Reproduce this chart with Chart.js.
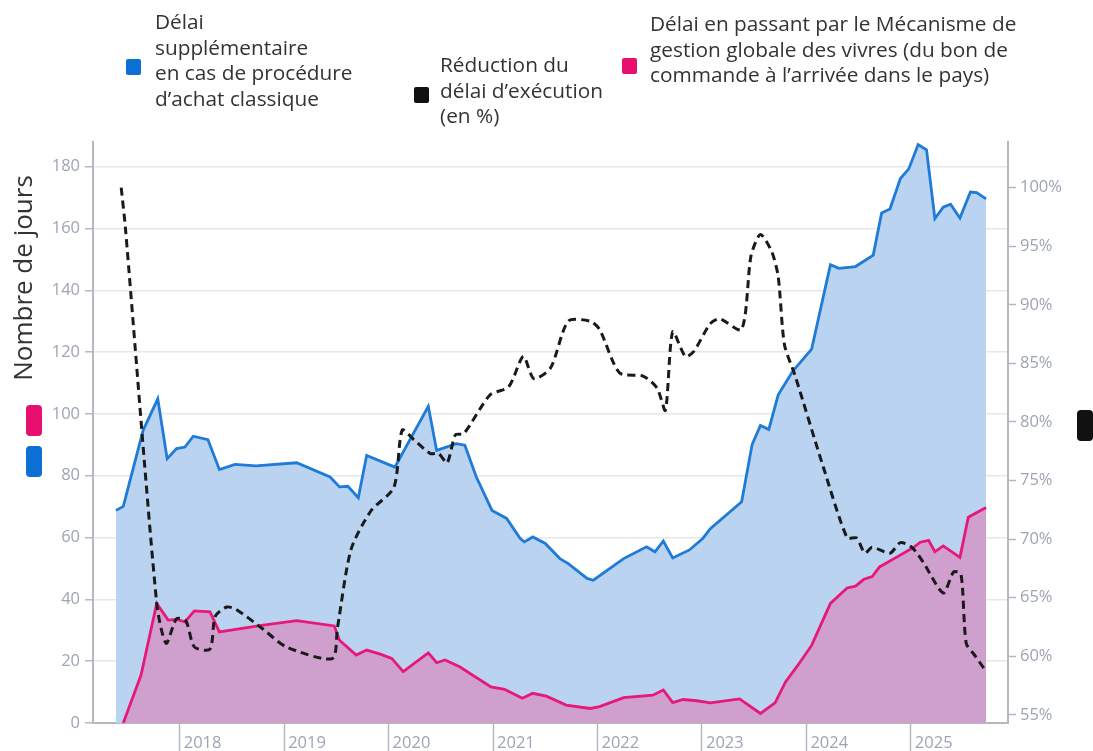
<!DOCTYPE html>
<html lang="fr">
<head>
<meta charset="utf-8">
<title>Délai d'exécution</title>
<script src="https://cdn.jsdelivr.net/npm/chart.js@4.4.1/dist/chart.umd.min.js"></script>
<style>
  html, body { margin: 0; padding: 0; background: #fff; }
  #wrap { position: relative; width: 1093px; height: 751px; overflow: hidden; font-family: "Open Sans", "Noto Sans", sans-serif; }
  #wrap canvas { position: absolute; left: 0; top: 0; }
  .leg { position: absolute; color: #333; font-size: 20.8px; line-height: 25.7px; white-space: nowrap; }
  .sw { position: absolute; width: 15px; height: 16px; border-radius: 2px; }
  .axsw { position: absolute; width: 16px; height: 31px; border-radius: 4px; }
  #ytitle { position: absolute; left: 22px; top: 278px; transform: translate(-50%, -50%) rotate(-90deg); font-size: 26px; color: #333; white-space: nowrap; }
</style>
</head>
<body>
<div id="wrap">
  <canvas id="chart" width="1093" height="751"></canvas>

  <div class="sw" style="left:126px;top:59px;background:#0b6fd6"></div>
  <div class="leg" style="left:155px;top:9px">Délai<br>supplémentaire<br>en cas de procédure<br>d’achat classique</div>

  <div class="sw" style="left:414px;top:87px;background:#111"></div>
  <div class="leg" style="left:440px;top:52px">Réduction du<br>délai d’exécution<br>(en %)</div>

  <div class="sw" style="left:622px;top:58px;background:#e8106e"></div>
  <div class="leg" style="left:650px;top:11px">Délai en passant par le Mécanisme de<br>gestion globale des vivres (du bon de<br>commande à l’arrivée dans le pays)</div>

  <div id="ytitle">Nombre de jours</div>
  <div class="axsw" style="left:26px;top:405px;background:#e8106e"></div>
  <div class="axsw" style="left:26px;top:446px;background:#0b6fd6"></div>
  <div class="axsw" style="left:1077px;top:410px;background:#111"></div>
</div>

<script>
// time is in decimal years (2018.5 = mid 2018)
const classicDates = [2017.39, 2017.46, 2017.65, 2017.79, 2017.88, 2017.97, 2018.05, 2018.13, 2018.27, 2018.38,
  2018.53, 2018.73, 2019.12, 2019.44, 2019.53, 2019.61, 2019.71, 2019.79, 2020.06, 2020.38,
  2020.46, 2020.65, 2020.73, 2020.84, 2020.99, 2021.13, 2021.26, 2021.30, 2021.38, 2021.50,
  2021.64, 2021.72, 2021.90, 2021.96, 2022.25, 2022.47, 2022.55, 2022.63, 2022.72, 2022.88,
  2023.01, 2023.08, 2023.38, 2023.48, 2023.56, 2023.64, 2023.73, 2023.87, 2024.05, 2024.23,
  2024.31, 2024.47, 2024.64, 2024.72, 2024.80, 2024.90, 2024.98, 2025.07, 2025.15, 2025.23,
  2025.31, 2025.38, 2025.47, 2025.57, 2025.63, 2025.72];
const classicDays = [68.8, 70.1, 94.7, 104.9, 85.5, 88.8, 89.3, 92.8, 91.7, 82.0,
  83.7, 83.2, 84.2, 79.6, 76.4, 76.6, 72.9, 86.6, 82.8, 102.5,
  88.2, 90.4, 89.9, 79.6, 68.8, 66.2, 59.7, 58.6, 60.2, 58.1,
  53.2, 51.6, 46.8, 46.2, 53.2, 57.0, 55.4, 58.9, 53.4, 56.0,
  59.8, 62.9, 71.6, 90.1, 96.3, 95.0, 106.2, 113.9, 121.0, 148.3,
  147.1, 147.7, 151.4, 165.0, 166.3, 176.2, 179.3, 187.2, 185.5, 163.2,
  166.9, 167.9, 163.4, 171.8, 171.6, 169.6];

const gcmfDates = [2017.46, 2017.63, 2017.78, 2017.89, 2017.97, 2018.05, 2018.14, 2018.29, 2018.38, 2018.80,
  2019.12, 2019.48, 2019.53, 2019.69, 2019.79, 2019.92, 2020.03, 2020.14, 2020.38, 2020.46,
  2020.54, 2020.68, 2020.98, 2021.11, 2021.28, 2021.38, 2021.51, 2021.70, 2021.93, 2022.02,
  2022.25, 2022.53, 2022.63, 2022.72, 2022.82, 2022.95, 2023.08, 2023.36, 2023.56, 2023.70,
  2023.80, 2023.91, 2024.05, 2024.23, 2024.39, 2024.47, 2024.55, 2024.63, 2024.70, 2024.86,
  2025.02, 2025.09, 2025.17, 2025.23, 2025.31, 2025.47, 2025.55, 2025.72];
const gcmfDays = [0, 15.5, 38.7, 33.3, 33.5, 32.7, 36.3, 36.0, 29.5, 31.7,
  33.1, 31.4, 26.8, 22.0, 23.6, 22.3, 20.9, 16.6, 22.7, 19.5,
  20.4, 18.2, 11.7, 10.9, 8.0, 9.6, 8.7, 5.8, 4.7, 5.3,
  8.2, 9.0, 10.7, 6.6, 7.6, 7.2, 6.5, 7.8, 3.1, 6.5,
  13.3, 18.3, 25.1, 38.7, 43.7, 44.3, 46.5, 47.4, 50.5, 53.6,
  56.7, 58.5, 59.1, 55.4, 57.3, 53.6, 66.6, 69.7];

const reductionDates = [2017.44, 2017.48, 2017.78, 2017.87, 2017.97, 2018.06, 2018.14, 2018.29, 2018.34, 2018.45,
  2018.54, 2018.80, 2019.02, 2019.46, 2019.51, 2019.64, 2019.83, 2020.05, 2020.13, 2020.24,
  2020.40, 2020.48, 2020.56, 2020.64, 2020.72, 2020.97, 2021.15, 2021.29, 2021.39, 2021.55,
  2021.72, 2021.93, 2022.02, 2022.21, 2022.44, 2022.57, 2022.65, 2022.72, 2022.84, 2022.92,
  2023.08, 2023.17, 2023.38, 2023.47, 2023.56, 2023.67, 2023.73, 2023.79, 2023.89, 2024.16,
  2024.39, 2024.48, 2024.56, 2024.63, 2024.80, 2024.90, 2025.01, 2025.12, 2025.31, 2025.41,
  2025.48, 2025.53, 2025.61, 2025.72];
const reductionPct = [100, 96.6, 64.5, 61.1, 63.2, 63.0, 60.8, 60.6, 63.4, 64.2,
  64.0, 62.3, 60.8, 59.8, 62.4, 69.1, 72.4, 74.4, 79.3, 78.5,
  77.3, 77.3, 76.5, 78.9, 79.0, 82.3, 83.0, 85.6, 83.7, 84.6,
  88.6, 88.6, 87.9, 84.2, 83.9, 82.9, 81.0, 87.7, 85.6, 86.0,
  88.4, 88.8, 87.9, 94.2, 96.0, 94.5, 92.4, 86.6, 84.0, 76.2,
  70.1, 70.1, 68.8, 69.3, 68.8, 69.7, 69.3, 68.0, 65.4, 67.2,
  67.0, 61.1, 60.1, 58.7];

const yearTicks = [2018, 2019, 2020, 2021, 2022, 2023, 2024, 2025];

const pts = (xs, ys) => xs.map((x, i) => ({ x: x, y: ys[i] }));

const tickGrey = "#9da4b3";
const axisGrey = "#b3b8c1";
const tickFont = { family: "Open Sans", size: 16.5 };

new Chart(document.getElementById("chart"), {
    type: "line",
    data: {
        datasets: [
            {
                label: "Réduction du délai d’exécution (en %)",
                data: pts(reductionDates, reductionPct),
                yAxisID: "yPct",
                borderColor: "#1a1a1a",
                borderWidth: 3,
                borderDash: [8, 5],
                tension: 0.25,
                fill: false,
                pointRadius: 0,
            },
            {
                label: "Délai en passant par le Mécanisme de gestion globale des vivres",
                data: pts(gcmfDates, gcmfDays),
                yAxisID: "yDays",
                borderColor: "#e8177a",
                borderWidth: 2.8,
                backgroundColor: "#cfa0cd",
                fill: "origin",
                tension: 0,
                pointRadius: 0,
            },
            {
                label: "Délai supplémentaire en cas de procédure d’achat classique",
                data: pts(classicDates, classicDays),
                yAxisID: "yDays",
                borderColor: "#1f7bd8",
                borderWidth: 2.8,
                backgroundColor: "#b9d3f0",
                fill: "origin",
                tension: 0,
                pointRadius: 0,
            },
        ],
    },
    options: {
        responsive: false,
        animation: false,
        layout: { padding: { top: 142, left: 0, right: 0, bottom: 0 } },
        plugins: { legend: { display: false }, tooltip: { enabled: false } },
        scales: {
            x: {
                type: "linear",
                min: 2017.17,
                max: 2025.93,
                afterBuildTicks: (scale) => { scale.ticks = yearTicks.map((v) => ({ value: v })); },
                afterFit: (scale) => { scale.height = 28; },
                border: { display: true, color: axisGrey, width: 2 },
                grid: { drawOnChartArea: false, drawTicks: true, tickLength: 28, tickColor: axisGrey, tickWidth: 1.5 },
                ticks: {
                    align: "start",
                    labelOffset: 4,
                    padding: -18,
                    maxRotation: 0,
                    color: tickGrey,
                    font: tickFont,
                    callback: (v) => String(v),
                },
            },
            yDays: {
                position: "left",
                min: 0,
                max: 188,
                afterFit: (scale) => { scale.width = 93; },
                border: { display: true, color: axisGrey, width: 2 },
                grid: { color: "#e4e7eb", lineWidth: 1.5, tickLength: 8, tickColor: axisGrey, tickWidth: 1.5 },
                ticks: {
                    stepSize: 20,
                    includeBounds: false,
                    padding: 5,
                    color: tickGrey,
                    font: tickFont,
                },
            },
            yPct: {
                position: "right",
                min: 54.3,
                max: 103.9,
                afterFit: (scale) => { scale.width = 85; },
                border: { display: true, color: axisGrey, width: 2 },
                grid: { drawOnChartArea: false, tickLength: 8, tickColor: axisGrey, tickWidth: 1.5 },
                ticks: {
                    stepSize: 5,
                    includeBounds: false,
                    padding: 4,
                    color: tickGrey,
                    font: tickFont,
                    callback: (v) => v + "%",
                },
            },
        },
    },
});
</script>
</body>
</html>
